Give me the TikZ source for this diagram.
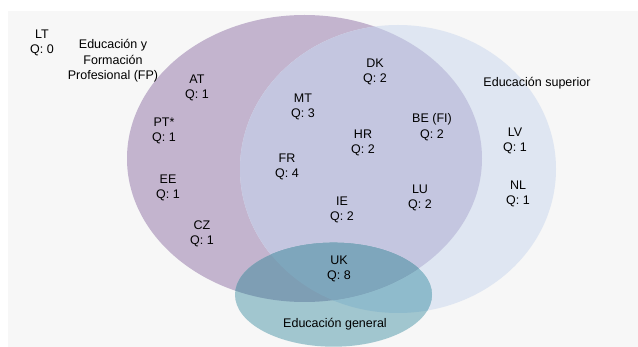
\documentclass[tikz,border=0pt]{standalone}
\usepackage{fontspec}
\setmainfont{Liberation Sans}
\definecolor{bg}{HTML}{F7F7F7}
\definecolor{ponly}{HTML}{C3B4CE}
\definecolor{bonly}{HTML}{DFE6F2}
\definecolor{pb}{HTML}{C4C6E0}
\definecolor{tonly}{HTML}{A1C6CF}
\definecolor{tb}{HTML}{8FBBCC}
\definecolor{tp}{HTML}{7E9EB4}
\definecolor{tpb}{HTML}{7EA6BC}
\tikzset{
  lbl/.style={align=center, font=\fontsize{12.5}{15.5}\selectfont, text=black, inner sep=0pt},
}
\begin{document}
\begin{tikzpicture}[x=1pt,y=-1pt]
\useasboundingbox (0,0) rectangle (638,347);
\fill[bg] (8,11) rectangle (638,347);
% ellipses
\def\Pell{(304.5,158.5) ellipse [x radius=177.5, y radius=143.5]}
\def\Bell{(398,169) ellipse [x radius=158, y radius=144]}
\def\Tell{(333.5,294.7) ellipse [x radius=98.5, y radius=52]}
\fill[ponly] \Pell;
\fill[bonly] \Bell;
\begin{scope}
  \clip \Pell;
  \fill[pb] \Bell;
\end{scope}
\fill[tonly] \Tell;
\begin{scope}
  \clip \Tell;
  \fill[tb] \Bell;
  \fill[tp] \Pell;
  \clip \Pell;
  \fill[tpb] \Bell;
\end{scope}
% labels
\node[lbl] (lt) at (42,43) {LT\\Q: 0};
\node[lbl] (fp) at (113,61) {Educación y\\Formación\\Profesional (FP)};
\node[lbl] (at) at (197,88) {AT\\Q: 1};
\node[lbl] (pt) at (164,131) {PT*\\Q: 1};
\node[lbl] (ee) at (168,188) {EE\\Q: 1};
\node[lbl] (cz) at (202,234) {CZ\\Q: 1};
\node[lbl] (mt) at (303,107) {MT\\Q: 3};
\node[lbl] (fr) at (287,167) {FR\\Q: 4};
\node[lbl] (dk) at (375,72) {DK\\Q: 2};
\node[lbl] (hr) at (363,143) {HR\\Q: 2};
\node[lbl] (be) at (432,127) {BE (FI)\\Q: 2};
\node[lbl] (ie) at (342,210) {IE\\Q: 2};
\node[lbl] (lu) at (420,198) {LU\\Q: 2};
\node[lbl] (uk) at (339,269) {UK\\Q: 8};
\node[lbl] (es) at (537,83) {Educación superior};
\node[lbl] (lv) at (515,141) {LV\\Q: 1};
\node[lbl] (nl) at (518,194) {NL\\Q: 1};
\node[lbl] (eg) at (335,324) {Educación general};
\end{tikzpicture}
\end{document}
